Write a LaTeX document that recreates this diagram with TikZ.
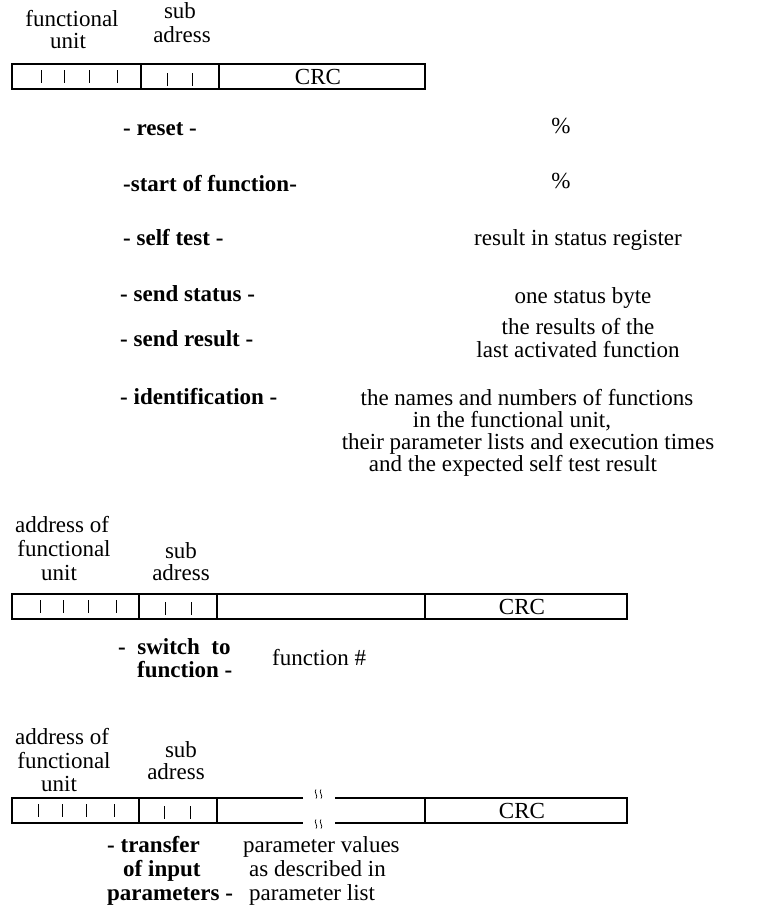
\documentclass[tikz,border=0pt]{standalone}
\usepackage{fontspec}
\setmainfont{Liberation Serif}
\begin{document}
\begin{tikzpicture}[x=1pt,y=-1pt,
  txt/.style={inner sep=0pt, font=\fontsize{23}{24}\selectfont, anchor=base},
  ltxt/.style={txt, anchor=base west},
  btxt/.style={ltxt, font=\fontsize{23}{24}\selectfont\bfseries},
  frame/.style={line width=1.1pt},
  tick/.style={line width=1pt},
  brk/.style={line width=0.7pt},
]
\useasboundingbox (0,0) rectangle (776,910);

% ---------- frame 1: short command ----------
\node[txt] (fuA1) at (72,26) {functional};
\node[txt] (fuA2) at (68,48) {unit};
\node[txt] (saA1) at (180,19) {sub};
\node[txt] (saA2) at (182,42) {adress};
\draw[frame] (12,64) rectangle (425,89);
\draw[frame] (141,64) -- (141,89) (219,64) -- (219,89);
\foreach \x in {41,64,89,117} \draw[tick] (\x,70) -- (\x,83);
\foreach \x in {167,192} \draw[tick] (\x,73) -- (\x,86);
\node[txt] (crcA) at (318,84) {CRC};

% ---------- commands and replies ----------
\node[btxt] (cReset) at (123,135) {- reset -};
\node[txt]  (rReset) at (561,133) {\%};
\node[btxt] (cStart) at (123,191) {-start of function-};
\node[txt]  (rStart) at (561,188) {\%};
\node[btxt] (cTest) at (123,245) {- self test -};
\node[txt]  (rTest) at (578,245) {result in status register};
\node[btxt] (cStat) at (120,301) {- send status -};
\node[txt]  (rStat) at (583,303) {one status byte};
\node[btxt] (cRes) at (120,346) {- send result -};
\node[txt]  (rRes1) at (578,334) {the results of the};
\node[txt]  (rRes2) at (578,357) {last activated function};
\node[btxt] (cId) at (120,404) {- identification -};
\node[txt]  (rId1) at (527,405) {the names and numbers of functions};
\node[txt]  (rId2) at (512,427) {in the functional unit,};
\node[txt]  (rId3) at (528,449) {their parameter lists and execution times};
\node[txt]  (rId4) at (513,471) {and the expected self test result};

% ---------- frame 2: switch to function ----------
\node[txt] (fuB1) at (62,532) {address of};
\node[txt] (fuB2) at (64,556) {functional};
\node[txt] (fuB3) at (59,580) {unit};
\node[txt] (saB1) at (181,558) {sub};
\node[txt] (saB2) at (181,580) {adress};
\draw[frame] (12,594) rectangle (627,619);
\draw[frame] (139,594) -- (139,619) (217,594) -- (217,619) (425,594) -- (425,619);
\foreach \x in {40,63,88,116} \draw[tick] (\x,600) -- (\x,613);
\foreach \x in {165,191} \draw[tick] (\x,602) -- (\x,615);
\node[txt] (crcB) at (522,614) {CRC};
\node[btxt] (cSw1) at (118,654) {-\ \ switch\ \ to};
\node[btxt] (cSw2) at (137,677) {function -};
\node[ltxt] (rSw) at (272,665) {function \#};

% ---------- frame 3: parameter transfer ----------
\node[txt] (fuC1) at (62,744) {address of};
\node[txt] (fuC2) at (64,768) {functional};
\node[txt] (fuC3) at (59,791) {unit};
\node[txt] (saC1) at (181,757) {sub};
\node[txt] (saC2) at (176,779) {adress};
\draw[frame] (303,798) -- (12,798) -- (12,823) -- (303,823);
\draw[frame] (335,798) -- (627,798) -- (627,823) -- (335,823);
\draw[frame] (139,798) -- (139,823) (217,798) -- (217,823) (425,798) -- (425,823);
\foreach \x in {38,62,86,114} \draw[tick] (\x,804) -- (\x,817);
\foreach \x in {164,190} \draw[tick] (\x,806) -- (\x,819);
% break marks in the open field
\foreach \yy in {794,824}
  \foreach \xx in {316,321}
    \draw[brk] (\xx,\yy-4.5) .. controls (\xx-3,\yy-2) and (\xx+3,\yy+2) .. (\xx,\yy+4.5);
\node[txt] (crcC) at (522,818) {CRC};
\node[btxt] (cTr1) at (107,852) {- transfer};
\node[btxt] (cTr2) at (123,876) {of input};
\node[btxt] (cTr3) at (107,900) {parameters -};
\node[ltxt] (rTr1) at (243,852) {parameter values};
\node[ltxt] (rTr2) at (249,876) {as described in};
\node[ltxt] (rTr3) at (249,900) {parameter list};
\end{tikzpicture}
\end{document}
